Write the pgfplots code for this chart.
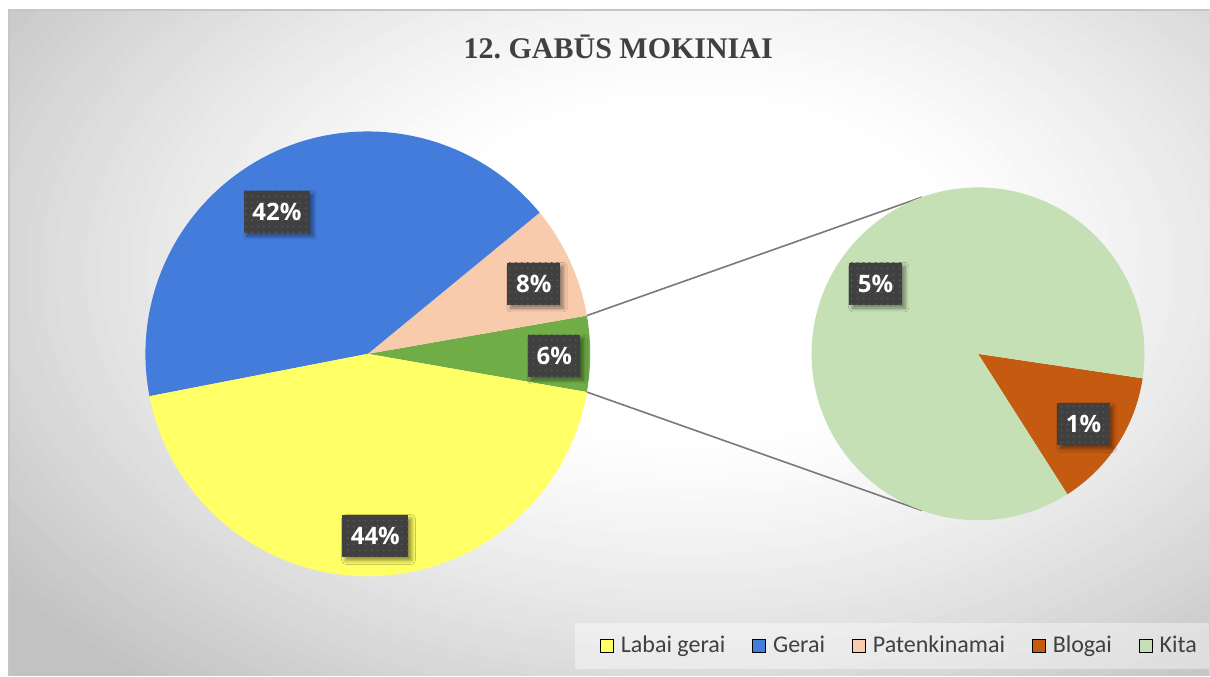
\documentclass[border=0pt]{standalone}
\usepackage{pgfplots}
\pgfplotsset{compat=1.18}
\usepackage{pgfplotstable}
\usepackage{fontspec}
\setmainfont{Carlito}
\newfontfamily\titlefont{Liberation Serif}
\newfontfamily\lblfont{Open Sans}
\usetikzlibrary{patterns,shadows.blur,calc}

\definecolor{cYellow}{HTML}{FFFF66}
\definecolor{cBlue}{HTML}{447CDC}
\definecolor{cPeach}{HTML}{F8CBAD}
\definecolor{cGreen}{HTML}{70AD47}
\definecolor{cOrange}{HTML}{C55A11}
\definecolor{cLtGreen}{HTML}{C5E0B4}
\definecolor{boxgray}{HTML}{404040}
\definecolor{textgray}{HTML}{404040}

% main pie, first slice = split-off part (Blogai + Kita); lx ly = label centre
\pgfplotstableread{
name         value col      lx    ly
Other        5.5   cGreen   554.5 356
Patenkinamai 8.2   cPeach   534   284
Gerai        42.1  cBlue    277   212
Labai        44.2  cYellow  375.5 536.5
}\mainpie
% second pie
\pgfplotstableread{
name   value col      lx    ly
Blogai 0.75  cOrange  1084  424.5
Kita   4.75  cLtGreen 876   284
}\sidepie

\tikzset{
  pctlabel/.style={fill=boxgray, text=white,
    font=\lblfont\bfseries\fontsize{12}{14}\selectfont,
    inner xsep=4.3pt, inner ysep=0pt, minimum height=21pt,
    blur shadow={shadow xshift=1.6pt, shadow yshift=-1.6pt, shadow opacity=45, shadow blur steps=6},
    postaction={pattern=dots, pattern color=white!12!boxgray}},
  connector/.style={draw=gray!95!black, line width=0.8pt}
}

% #1 table, #2 cx, #3 cy, #4 radius, #5 angle at which the first slice is centred
\newcommand\drawpie[5]{%
  \pgfplotstablegetrowsof{#1}%
  \pgfmathtruncatemacro\lastrow{\pgfplotsretval-1}%
  \def\pietotal{0}%
  \pgfplotsforeachungrouped \k in {0,...,\lastrow}{%
    \pgfplotstablegetelem{\k}{value}\of{#1}%
    \pgfmathsetmacro\pietotal{\pietotal+\pgfplotsretval}}%
  \pgfplotstablegetelem{0}{value}\of{#1}%
  \pgfmathsetmacro\firsthalf{180*\pgfplotsretval/\pietotal}%
  \pgfmathsetmacro\angA{#5-\firsthalf}%
  \pgfplotsforeachungrouped \k in {0,...,\lastrow}{%
    \pgfplotstablegetelem{\k}{value}\of{#1}\let\sval\pgfplotsretval
    \pgfplotstablegetelem{\k}{col}\of{#1}\let\scol\pgfplotsretval
    \pgfmathsetmacro\angB{\angA+360*\sval/\pietotal}%
    \edef\temp{\noexpand\fill[\scol] (axis cs:#2,#3) -- ++(\angA:#4)
      arc[start angle=\angA, end angle=\angB, radius=#4] -- cycle;}%
    \temp
    \let\angA\angB
  }%
}
\newcommand\pielabels[1]{%
  \pgfplotstablegetrowsof{#1}%
  \pgfmathtruncatemacro\lastrow{\pgfplotsretval-1}%
  \pgfplotsforeachungrouped \k in {0,...,\lastrow}{%
    \pgfplotstablegetelem{\k}{value}\of{#1}\let\sval\pgfplotsretval
    \pgfplotstablegetelem{\k}{lx}\of{#1}\let\lx\pgfplotsretval
    \pgfplotstablegetelem{\k}{ly}\of{#1}\let\ly\pgfplotsretval
    \pgfmathtruncatemacro\pct{round(\sval)}%
    \edef\temp{\noexpand\node[pctlabel] at (axis cs:\lx,\ly) {\pct\noexpand\%};}%
    \temp
  }%
}

\begin{document}
\begin{tikzpicture}
% chart area background: white centre fading to grey at the corners
\fill[white] (0,0) rectangle (605pt,338pt);
\begin{scope}
  \clip (4.5pt,0) rectangle (605pt,333pt);
  \fill[gray!48] (4.5pt,0) rectangle (605pt,333pt);
  \foreach \i in {1,...,40}{
    \pgfmathsetmacro\s{1-0.7*\i/40}
    \pgfmathsetmacro\g{48*((\s-0.3)/0.7)^1.3}
    \fill[gray!\g] (345pt,203pt) ellipse [x radius=\s*430pt, y radius=\s*270pt];
  }
\end{scope}
\draw[gray!45, line width=0.6pt] (4.5pt,0) -- (4.5pt,333pt) -- (605pt,333pt);

\begin{axis}[
  x=0.5pt, y=0.5pt, y dir=reverse,
  xmin=0, xmax=1210, ymin=0, ymax=676,
  scale only axis, hide axis, clip=false,
  legend columns=5,
  legend style={at={(axis cs:600,646)}, anchor=west, draw=none, fill=none,
    inner sep=0pt, text=textgray, font=\fontsize{12}{14}\selectfont,
    /tikz/every odd column/.append style={column sep=1.5pt},
    /tikz/every even column/.append style={column sep=11.5pt}},
  legend image code/.code={\fill[#1] (0pt,-3.25pt) rectangle (6.5pt,3.25pt);},
]
% legend box
\fill[white, opacity=0.4] (axis cs:575,623) rectangle (axis cs:1210,669);

\drawpie{\mainpie}{368}{354}{111.25pt}{0}
\edef\temp{\noexpand\draw[connector] ($(axis cs:368,354)+(\firsthalf:111.25pt)$) -- ($(axis cs:978.5,354)+(109.6:83.25pt)$);
  \noexpand\draw[connector] ($(axis cs:368,354)+(-\firsthalf:111.25pt)$) -- ($(axis cs:978.5,354)+(-109.6:83.25pt)$);}
\temp
\drawpie{\sidepie}{978.5}{354}{83.25pt}{-33}

\pielabels{\mainpie}
\pielabels{\sidepie}

\node[font=\titlefont\bfseries\fontsize{15}{18}\selectfont, text=textgray, anchor=base]
  at (axis cs:618.5,59) {12.\ GABŪS MOKINIAI};

\addlegendimage{fill=cYellow}\addlegendentry{Labai gerai}
\addlegendimage{fill=cBlue}\addlegendentry{Gerai}
\addlegendimage{fill=cPeach}\addlegendentry{Patenkinamai}
\addlegendimage{fill=cOrange}\addlegendentry{Blogai}
\addlegendimage{fill=cLtGreen}\addlegendentry{Kita}
\end{axis}
\end{tikzpicture}
\end{document}
